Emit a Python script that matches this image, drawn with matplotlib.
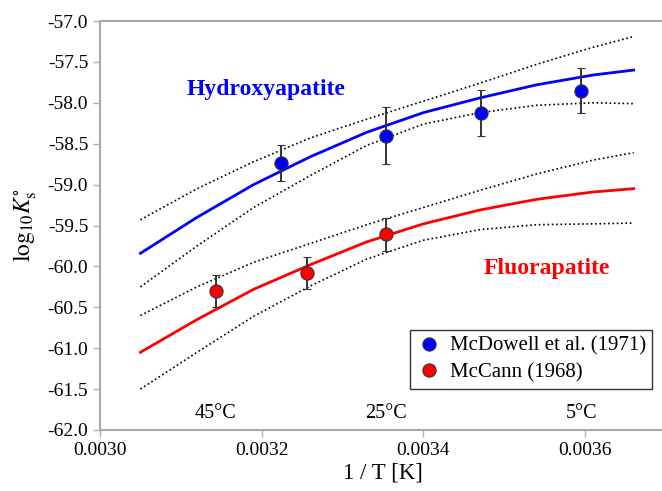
import matplotlib
matplotlib.use("Agg")
import matplotlib.pyplot as plt
from matplotlib.lines import Line2D
from matplotlib.ticker import FormatStrFormatter

plt.rcParams['font.family'] = ['Liberation Serif', 'DejaVu Serif']
plt.rcParams['mathtext.fontset'] = 'stix'
plt.rcParams['axes.unicode_minus'] = False

# --- datos medidos ---
mcdowell_x = [0.003224, 0.003354, 0.003471, 0.003595]
mcdowell_y = [-58.74, -58.40, -58.12, -57.85]
mcdowell_err = [0.22, 0.35, 0.28, 0.28]

mccann_x = [0.003143, 0.003256, 0.003354]
mccann_y = [-60.30, -60.08, -59.61]
mccann_err = [0.20, 0.20, 0.20]

# --- curvas ---
curve_x = [0.00305, 0.00312, 0.00319, 0.00326, 0.00333, 0.00340, 0.00347, 0.00354, 0.00361, 0.00366]
hap_fit = [-59.84, -59.40, -59.00, -58.66, -58.36, -58.12, -57.94, -57.78, -57.66, -57.60]
hap_hi = [-59.43, -59.05, -58.72, -58.43, -58.20, -57.98, -57.76, -57.53, -57.32, -57.19]
hap_lo = [-60.25, -59.75, -59.28, -58.89, -58.52, -58.26, -58.12, -58.03, -58.00, -58.01]
fap_fit = [-61.05, -60.65, -60.28, -59.98, -59.70, -59.48, -59.31, -59.18, -59.09, -59.05]
fap_hi = [-60.60, -60.25, -59.95, -59.72, -59.49, -59.28, -59.07, -58.87, -58.70, -58.61]
fap_lo = [-61.50, -61.05, -60.61, -60.24, -59.91, -59.68, -59.55, -59.49, -59.48, -59.47]

temp_labels = ['45°C', '25°C', '5°C']
temp_x = [0.003143, 0.003354, 0.003595]

fig = plt.figure(figsize=(6.62, 4.91), dpi=100)
ax = fig.add_axes([100/662, 61/491, 566/662, 409/491])

dots = dict(color='black', lw=1.2, linestyle=(0, (1, 1.6)))
ax.plot(curve_x, hap_hi, **dots)
ax.plot(curve_x, hap_lo, **dots)
ax.plot(curve_x, fap_hi, **dots)
ax.plot(curve_x, fap_lo, **dots)
ax.plot(curve_x, hap_fit, color='#0000ff', lw=2.0)
ax.plot(curve_x, fap_fit, color='#ff0000', lw=2.0)

pt = dict(fmt='o', mec='#333333', mew=0.8, ms=9.5, ecolor='#333333',
          elinewidth=1.4, capsize=3, capthick=1.2, zorder=5)
ax.errorbar(mcdowell_x, mcdowell_y, yerr=mcdowell_err, color='#0000ff', **pt)
ax.errorbar(mccann_x, mccann_y, yerr=mccann_err, color='#ff0000', **pt)

ax.text(0.003205, -57.84, 'Hydroxyapatite', color='#0000ff', fontsize=17,
        fontweight='bold', ha='center', va='center')
ax.text(0.003553, -60.03, 'Fluorapatite', color='#ff0000', fontsize=17,
        fontweight='bold', ha='center', va='center')
for lab, tx in zip(temp_labels, temp_x):
    ax.text(tx, -61.80, lab, fontsize=14.5, ha='center', va='center')

ax.set_xlim(0.0030, 0.0037)
ax.set_ylim(-62.0, -57.0)
ax.set_xticks([0.0030, 0.0032, 0.0034, 0.0036])
ax.set_yticks([-62.0 + 0.5 * i for i in range(11)])
ax.xaxis.set_major_formatter(FormatStrFormatter('%.4f'))
ax.yaxis.set_major_formatter(FormatStrFormatter('%.1f'))
ax.tick_params(labelsize=14, color='#b0b0b0', length=5, width=1)

for s in ['left', 'top', 'bottom']:
    ax.spines[s].set_color('#a8a8a8')
    ax.spines[s].set_linewidth(1.5)
ax.spines['right'].set_visible(False)

ax.set_xlabel('1 / T [K]', fontsize=16.5, labelpad=3)
ax.set_ylabel(r'$\mathrm{log}_{10}K_{\mathrm{s}}^{\circ}$', fontsize=17, labelpad=6)

handles = [
    Line2D([], [], ls='none', marker='o', ms=9.5, mfc='#0000ff', mec='#333333', mew=0.8),
    Line2D([], [], ls='none', marker='o', ms=9.5, mfc='#ff0000', mec='#333333', mew=0.8),
]
leg = ax.legend(handles, ['McDowell et al. (1971)', 'McCann (1968)'],
                loc='lower right', bbox_to_anchor=(552/566, 41/409), borderaxespad=0,
                fontsize=15, frameon=True, fancybox=False, edgecolor='black',
                handletextpad=0.4, borderpad=0.3, labelspacing=0.35, handlelength=1.2)
leg.get_frame().set_linewidth(1.0)

fig.savefig('out.png', dpi=100)
